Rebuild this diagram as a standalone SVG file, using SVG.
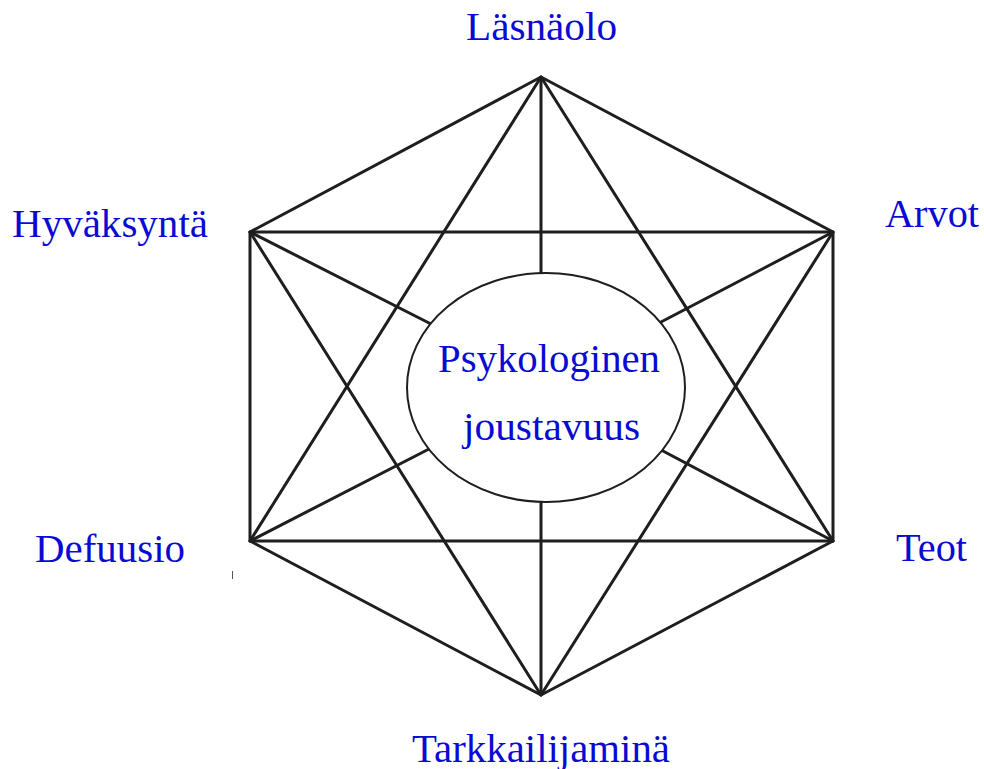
<svg xmlns="http://www.w3.org/2000/svg" width="984" height="769" viewBox="0 0 984 769">
<style>
.edge{stroke:#1e1e1e;stroke-width:3;fill:none;stroke-linecap:round;stroke-linejoin:round}
.lbl{font-family:"Liberation Serif","Times New Roman",serif;font-size:39px;fill:#0a0ad2}
.ctr{font-family:"Liberation Serif","Times New Roman",serif;font-size:40px;fill:#0a0ad2;text-anchor:middle}
</style>
<rect width="984" height="769" fill="#ffffff"/>
<g id="connectors">
<polygon class="edge" points="541,77 833,232 833,541 541,695 250,541 250,232"/>
<polygon class="edge" points="541,77 833,541 250,541"/>
<polygon class="edge" points="541,695 250,232 833,232"/>
<line class="edge" x1="541" y1="77" x2="541" y2="273"/>
<line class="edge" x1="541" y1="695" x2="541" y2="502"/>
<line class="edge" x1="250" y1="232" x2="431" y2="324"/>
<line class="edge" x1="833" y1="232" x2="661" y2="322"/>
<line class="edge" x1="250" y1="541" x2="429" y2="449"/>
<line class="edge" x1="833" y1="541" x2="663" y2="451"/>
<line x1="232.5" y1="571" x2="232.5" y2="579" stroke="#555" stroke-width="1"/>
</g>
<g id="center">
<ellipse cx="546" cy="387.5" rx="139" ry="114.5" fill="#ffffff" stroke="#1e1e1e" stroke-width="2"/>
<text class="ctr" x="549" y="372" textLength="222" lengthAdjust="spacingAndGlyphs">Psykologinen</text>
<text class="ctr" x="551.5" y="440" textLength="177" lengthAdjust="spacingAndGlyphs">joustavuus</text>
</g>
<g id="lasnaolo"><text class="lbl" x="466" y="40" textLength="151" lengthAdjust="spacingAndGlyphs">Läsnäolo</text></g>
<g id="hyvaksynta"><text class="lbl" x="12" y="237" textLength="196" lengthAdjust="spacingAndGlyphs">Hyväksyntä</text></g>
<g id="arvot"><text class="lbl" x="885" y="227" textLength="94" lengthAdjust="spacingAndGlyphs">Arvot</text></g>
<g id="defuusio"><text class="lbl" x="35" y="562" textLength="150" lengthAdjust="spacingAndGlyphs">Defuusio</text></g>
<g id="teot"><text class="lbl" x="896" y="561" textLength="71" lengthAdjust="spacingAndGlyphs">Teot</text></g>
<g id="tarkkailijamina"><text class="lbl" x="412" y="762" textLength="258" lengthAdjust="spacingAndGlyphs">Tarkkailijaminä</text></g>
</svg>
